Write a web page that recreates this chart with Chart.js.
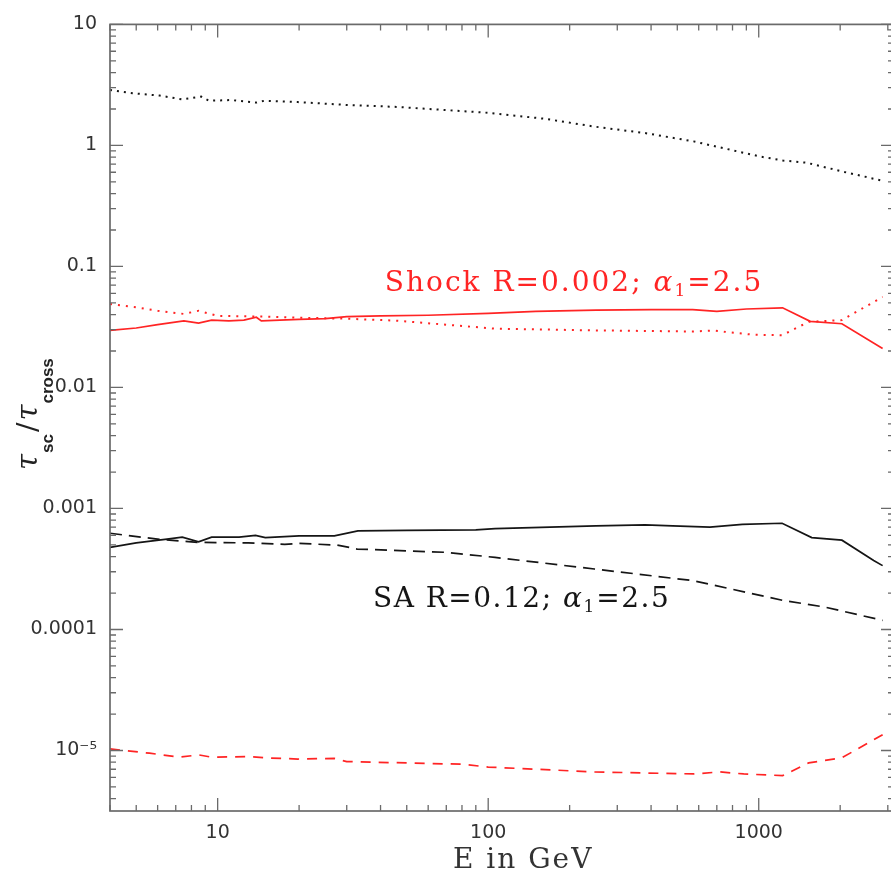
<!DOCTYPE html>
<html>
<head>
<meta charset="utf-8">
<script src="https://cdn.jsdelivr.net/npm/chart.js@4.4.1/dist/chart.umd.min.js"></script>
<style>
  html, body { margin: 0; padding: 0; overflow: hidden; background: #fff; }
  canvas { display: block; }
</style>
</head>
<body>
<canvas id="c" width="905" height="877"></canvas>
<script>
// Energies (GeV) and tau_sc / tau_cross for each curve
const saSolidE = [4, 5, 6.5, 7.4, 8.5, 9.5, 12, 13.8, 15, 20, 27, 33, 50, 90, 106, 250, 380, 480, 660, 870, 1220, 1570, 2030, 2660, 2870];
const saSolidV = [4.76e-4, 5.2e-4, 5.57e-4, 5.8e-4, 5.3e-4, 5.8e-4, 5.8e-4, 6.0e-4, 5.75e-4, 5.94e-4, 5.94e-4, 6.53e-4, 6.6e-4, 6.65e-4, 6.82e-4, 7.18e-4, 7.31e-4, 7.18e-4, 7.02e-4, 7.4e-4, 7.55e-4, 5.75e-4, 5.47e-4, 3.71e-4, 3.37e-4];

const saDashE = [4, 6.1, 8.5, 13, 17.7, 20, 27.7, 32.8, 70, 106, 247, 574, 1225, 1760, 2870];
const saDashV = [6.24e-4, 5.55e-4, 5.24e-4, 5.2e-4, 5.05e-4, 5.15e-4, 4.98e-4, 4.62e-4, 4.34e-4, 3.94e-4, 3.16e-4, 2.53e-4, 1.74e-4, 1.53e-4, 1.19e-4];

const saDotE = [4, 4.85, 6.1, 7.4, 8.7, 9.3, 11.2, 13.9, 14.9, 19.8, 30, 46, 100, 162, 247, 376, 574, 1010, 1230, 1500, 2030, 2870];
const saDotV = [2.87, 2.70, 2.58, 2.40, 2.53, 2.34, 2.37, 2.26, 2.34, 2.28, 2.16, 2.08, 1.86, 1.66, 1.43, 1.27, 1.08, 0.81, 0.75, 0.72, 0.61, 0.51];

const shockSolidE = [4, 5, 6, 7.5, 8.5, 9.5, 11, 12.5, 13.9, 14.5, 17, 20, 25, 30, 40, 60, 100, 150, 250, 400, 570, 700, 900, 1225, 1550, 2030, 2870];
const shockSolidV = [0.0296, 0.031, 0.033, 0.0355, 0.034, 0.036, 0.0355, 0.036, 0.038, 0.0355, 0.036, 0.0365, 0.037, 0.0385, 0.039, 0.0395, 0.041, 0.0425, 0.0435, 0.044, 0.044, 0.0425, 0.0445, 0.0455, 0.0352, 0.0336, 0.021];

const shockDotE = [4, 5, 6, 7.5, 8.5, 10, 15, 20, 30, 46, 70, 106, 250, 570, 680, 950, 1220, 1530, 2030, 2870];
const shockDotV = [0.049, 0.046, 0.043, 0.0405, 0.043, 0.039, 0.0385, 0.0377, 0.037, 0.0356, 0.033, 0.0306, 0.0296, 0.029, 0.0295, 0.0273, 0.027, 0.0349, 0.036, 0.056];

const shockDashE = [4, 5.6, 7.2, 8.5, 9.5, 13, 15, 19.8, 27, 30, 80, 100, 247, 574, 720, 880, 1225, 1530, 2028, 2870];
const shockDashV = [1.03e-5, 9.5e-6, 8.8e-6, 9.2e-6, 8.8e-6, 8.9e-6, 8.7e-6, 8.5e-6, 8.6e-6, 8.1e-6, 7.7e-6, 7.3e-6, 6.65e-6, 6.4e-6, 6.65e-6, 6.4e-6, 6.2e-6, 7.9e-6, 8.7e-6, 1.35e-5];

// Labelled ticks
const xTickValues = [10, 100, 1000];
const xTickLabels = ['10', '100', '1000'];
const yTickValues = [10, 1, 0.1, 0.01, 0.001, 0.0001, 1e-5];
const yTickLabels = ['10', '1', '0.1', '0.01', '0.001', '0.0001', '10\u207B\u2075'];

const RED = '#ff2424';
const BLACK = '#151515';
const AXIS = '#6a6a6a';

function pts(xs, ys) { return xs.map((x, i) => ({ x: x, y: ys[i] })); }
function labelFor(v, vals, labels) {
  const i = vals.findIndex(t => Math.abs(Math.log10(v) - Math.log10(t)) < 1e-6);
  return i >= 0 ? labels[i] : '';
}

// draw a string with extra spacing between characters, returns end x
function spaced(ctx, text, x, y, sp) {
  for (const ch of text) {
    ctx.fillText(ch, x, y);
    x += ctx.measureText(ch).width + sp;
  }
  return x;
}

// label like "Shock R=0.002; α1=2.5" with a subscript on alpha
function drawParamLabel(ctx, head, tail, x, y, color, sp) {
  ctx.save();
  ctx.fillStyle = color;
  ctx.textBaseline = 'alphabetic';
  ctx.textAlign = 'left';
  ctx.font = '28px "DejaVu Serif"';
  x = spaced(ctx, head, x, y, sp);
  ctx.font = 'italic 28px "DejaVu Serif"';
  x = spaced(ctx, '\u03B1', x, y, sp);
  ctx.font = '17px "DejaVu Serif"';
  x = spaced(ctx, '1', x, y + 5, 1);
  ctx.font = '28px "DejaVu Serif"';
  spaced(ctx, tail, x + 1, y, sp);
  ctx.restore();
}

const framePlugin = {
  id: 'frameTicks',
  afterDraw(chart) {
    const ctx = chart.ctx;
    const a = chart.chartArea;
    const xs = chart.scales.x, ys = chart.scales.y;
    ctx.save();
    ctx.strokeStyle = AXIS;
    ctx.lineWidth = 1.7;
    ctx.strokeRect(a.left, a.top, a.right - a.left, a.bottom - a.top);
    ctx.lineWidth = 1.3;
    ctx.beginPath();
    // inward ticks along bottom and top
    for (let d = 0; d <= 4; d++) {
      for (let m = 1; m <= 9; m++) {
        const v = m * Math.pow(10, d);
        if (v < xs.min || v > xs.max) continue;
        const px = xs.getPixelForValue(v);
        const len = m === 1 ? 13 : 6;
        ctx.moveTo(px, a.bottom); ctx.lineTo(px, a.bottom - len);
        ctx.moveTo(px, a.top); ctx.lineTo(px, a.top + len);
      }
    }
    // inward ticks along left and right
    for (let d = -6; d <= 1; d++) {
      for (let m = 1; m <= 9; m++) {
        const v = m * Math.pow(10, d);
        if (v < ys.min * 0.9999 || v > ys.max * 1.0001) continue;
        const py = ys.getPixelForValue(v);
        const len = m === 1 ? 13 : 6;
        ctx.moveTo(a.left, py); ctx.lineTo(a.left + len, py);
        ctx.moveTo(a.right, py); ctx.lineTo(a.right - len, py);
      }
    }
    ctx.stroke();
    ctx.restore();

    // curve labels
    drawParamLabel(ctx, 'Shock R=0.002; ', '=2.5', xs.getPixelForValue(41.5), ys.getPixelForValue(0.0628), RED, 2);
    drawParamLabel(ctx, 'SA R=0.12; ', '=2.5', xs.getPixelForValue(37.5), ys.getPixelForValue(1.53e-4), BLACK, 1.5);

    // x-axis title
    ctx.save();
    ctx.fillStyle = '#333';
    ctx.font = '28px "DejaVu Serif"';
    ctx.textBaseline = 'alphabetic';
    spaced(ctx, 'E in GeV', 453, 868, 2);
    ctx.restore();

    // y-axis title: tau_sc / tau_cross, rotated
    ctx.save();
    ctx.translate(37, 470);
    ctx.rotate(-Math.PI / 2);
    ctx.fillStyle = '#222';
    ctx.textBaseline = 'alphabetic';
    let x = 0;
    const tau = '\u03C4';
    ctx.font = 'italic 29px "DejaVu Serif"';
    ctx.fillText(tau, x, 0); x += ctx.measureText(tau).width + 1;
    ctx.font = 'bold 17px "Liberation Sans"';
    ctx.fillText('sc', x, 16); x += ctx.measureText('sc').width + 2;
    ctx.font = '28px "DejaVu Serif"';
    ctx.fillText('/', x, 0); x += ctx.measureText('/').width + 2;
    ctx.font = 'italic 29px "DejaVu Serif"';
    ctx.fillText(tau, x, 0); x += ctx.measureText(tau).width + 1;
    ctx.font = 'bold 17px "Liberation Sans"';
    ctx.fillText('cross', x, 16);
    ctx.restore();
  }
};

new Chart(document.getElementById('c'), {
  type: 'line',
  data: {
    datasets: [
      { data: pts(saDotE, saDotV), borderColor: BLACK, borderWidth: 2, borderDash: [2, 5] },
      { data: pts(shockSolidE, shockSolidV), borderColor: RED, borderWidth: 1.7 },
      { data: pts(shockDotE, shockDotV), borderColor: RED, borderWidth: 2, borderDash: [2, 6] },
      { data: pts(saSolidE, saSolidV), borderColor: BLACK, borderWidth: 1.7 },
      { data: pts(saDashE, saDashV), borderColor: BLACK, borderWidth: 1.7, borderDash: [12, 7] },
      { data: pts(shockDashE, shockDashV), borderColor: RED, borderWidth: 1.7, borderDash: [10, 8] }
    ]
  },
  options: {
    responsive: false,
    animation: false,
    devicePixelRatio: 1,
    layout: { padding: { top: 19, right: 2.25, left: 0, bottom: 0 } },
    elements: { point: { radius: 0 }, line: { tension: 0, fill: false } },
    plugins: { legend: { display: false }, tooltip: { enabled: false } },
    scales: {
      x: {
        type: 'logarithmic',
        min: 4,
        max: 3162.28,
        grid: { display: false, drawTicks: false },
        border: { display: false },
        afterFit(s) { s.height = 66; },
        ticks: {
          autoSkip: false, maxRotation: 0, padding: 11,
          color: '#333', font: { family: 'DejaVu Sans', size: 19 },
          callback: v => labelFor(v, xTickValues, xTickLabels)
        }
      },
      y: {
        type: 'logarithmic',
        min: 3.1623e-6,
        max: 10,
        grid: { display: false, drawTicks: false },
        border: { display: false },
        afterFit(s) { s.width = 110; },
        ticks: {
          autoSkip: false, padding: 13,
          color: '#333', font: { family: 'DejaVu Sans', size: 19 },
          callback: v => labelFor(v, yTickValues, yTickLabels)
        }
      }
    }
  },
  plugins: [framePlugin]
});
</script>
</body>
</html>
